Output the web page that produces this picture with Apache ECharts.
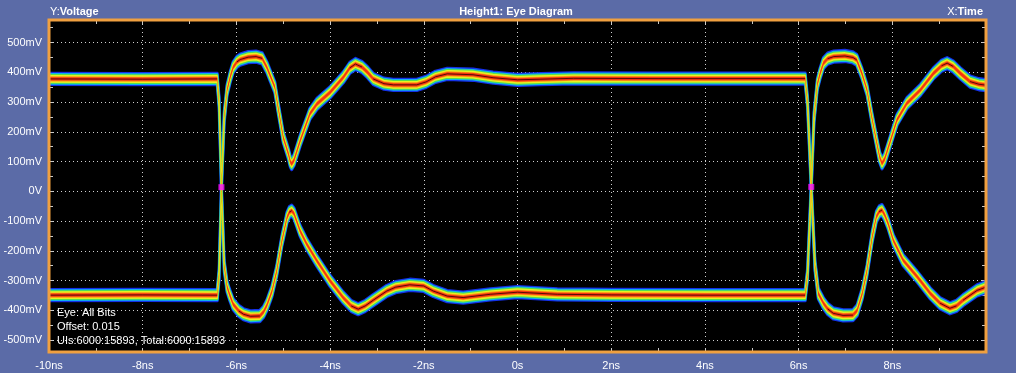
<!DOCTYPE html>
<html><head><meta charset="utf-8">
<script src="https://cdn.jsdelivr.net/npm/echarts@6/dist/echarts.min.js"></script>
<style>html,body{margin:0;padding:0;background:#5b6ba7;}#c{width:1016px;height:373px;}</style>
</head><body><div id="c"></div>
<script>
// ---- data (time in ns, voltage in mV) ----
const xTicks = [-10, -8, -6, -4, -2, 0, 2, 4, 6, 8];
const yTicks = [-500, -400, -300, -200, -100, 0, 100, 200, 300, 400, 500];
const xMinorTicks = [-10, -9, -8, -7, -6, -5, -4, -3, -2, -1, 0, 1, 2, 3, 4, 5, 6, 7, 8, 9, 10];
const yMinorTicks = [-500, -450, -400, -350, -300, -250, -200, -150, -100, -50, 0, 50, 100, 150, 200, 250, 300, 350, 400, 450, 500, 550];

// trace that starts high, falls at the first edge, rises at the second
const traceA = [
  [-10, 378], [-8, 377], [-6.41, 378],
  [-6.37, 300], [-6.32, 12], [-6.26, -250], [-6.20, -320], [-6.15, -345],
  [-6.07, -379], [-5.95, -402], [-5.85, -413], [-5.70, -420], [-5.50, -419], [-5.42, -405], [-5.35, -383],
  [-5.24, -335], [-5.14, -268], [-5.03, -167], [-4.92, -88], [-4.87, -70], [-4.82, -65], [-4.77, -75],
  [-4.64, -133], [-4.50, -177], [-4.28, -234], [-4.00, -301], [-3.72, -357], [-3.55, -385], [-3.40, -396], [-3.25, -385],
  [-3.08, -366], [-2.79, -335], [-2.60, -322], [-2.30, -314], [-2.00, -318], [-1.80, -335], [-1.50, -352], [-1.16, -357],
  [-0.58, -346], [0, -339], [0.85, -346], [2, -348], [4, -349], [6.14, -349],
  [6.19, -280], [6.27, 15], [6.33, 250], [6.40, 360], [6.46, 397], [6.53, 431], [6.62, 446], [6.75, 453], [6.99, 455], [7.16, 450], [7.24, 442],
  [7.35, 397], [7.46, 341], [7.56, 251], [7.67, 162], [7.73, 115], [7.78, 94], [7.84, 110], [7.92, 150], [8.10, 240], [8.31, 296], [8.60, 341],
  [8.88, 397], [9.05, 422], [9.17, 431], [9.30, 420], [9.45, 397], [9.66, 369], [9.85, 360], [10, 357]
];
// trace that starts low, rises at the first edge, falls at the second
const traceB = [
  [-10, -349], [-8, -348], [-6.41, -349],
  [-6.37, -280], [-6.32, 12], [-6.26, 250], [-6.20, 340], [-6.13, 386], [-6.07, 417], [-5.99, 435], [-5.92, 443], [-5.75, 451], [-5.58, 453], [-5.45, 447],
  [-5.35, 417], [-5.18, 350], [-5.11, 282], [-5.00, 181], [-4.89, 126], [-4.85, 100], [-4.82, 92], [-4.77, 105],
  [-4.64, 170], [-4.43, 261], [-4.28, 294], [-4.00, 333], [-3.72, 383], [-3.58, 415], [-3.46, 428], [-3.32, 418],
  [-3.20, 400], [-3.08, 378], [-2.85, 362], [-2.65, 358], [-2.15, 358], [-1.95, 368], [-1.75, 385], [-1.50, 395], [-0.95, 392], [-0.52, 382], [0, 375], [0.5, 377], [1.2, 380], [3, 379], [6.14, 379],
  [6.19, 300], [6.27, 15], [6.35, -250], [6.42, -343], [6.53, -376], [6.62, -395], [6.74, -410], [6.95, -417], [7.16, -416], [7.25, -400],
  [7.36, -343], [7.46, -266], [7.57, -154], [7.66, -85], [7.72, -68], [7.78, -63], [7.84, -80], [7.91, -108], [8.02, -164], [8.23, -231], [8.53, -287],
  [8.81, -343], [9.02, -376], [9.23, -393], [9.37, -385], [9.51, -366], [9.81, -333], [10, -322]
];
const crossings = [[-6.32, 14], [6.27, 15]];
const infoLines = ['Eye: All Bits', 'Offset: 0.015', 'UIs:6000:15893, Total:6000:15893'];

// ---- styles ----
const traces = [traceA, traceB];
const heatLayers = [
  { h: 19, lw: 3, color: '#1430e6' },
  { h: 15.5, lw: 2.5, color: '#10b4f0' },
  { h: 13, lw: 2, color: '#58e048' },
  { h: 11, lw: 1.2, color: '#e6f024' },
  { h: 8.5, lw: 0, color: '#ff9414' },
  { h: 5.5, lw: 0, color: '#f43410' },
  { center: true, color: 'rgba(50,0,0,0.8)' }
];
const FONT = '"Liberation Sans", Arial, sans-serif';
const GRID = { left: 49, right: 30, top: 20, bottom: 21 };

function renderItem(params, api) {
  const trace = traces[api.value(2)];
  const layer = heatLayers[api.value(3)];
  if (layer.center) {
    const children = [];
    let seg = [];
    for (let i = 0; i < trace.length; i++) {
      const p = api.coord(trace[i]);
      if (seg.length) {
        const q = seg[seg.length - 1];
        if (Math.abs(p[1] - q[1]) > Math.abs(p[0] - q[0]) * 0.8) {
          if (seg.length > 1) children.push({ type: 'polyline', shape: { points: seg }, style: { stroke: layer.color, lineWidth: 1, fill: null } });
          seg = [];
        }
      }
      seg.push(p);
    }
    if (seg.length > 1) children.push({ type: 'polyline', shape: { points: seg }, style: { stroke: layer.color, lineWidth: 1, fill: null } });
    return { type: 'group', children: children };
  }
  const up = trace.map(d => api.coord([d[0], d[1] + layer.h]));
  const dn = trace.map(d => api.coord([d[0], d[1] - layer.h])).reverse();
  return {
    type: 'polygon',
    shape: { points: up.concat(dn) },
    style: { fill: layer.color, stroke: layer.lw ? layer.color : null, lineWidth: layer.lw, lineJoin: 'round' }
  };
}

const bandItems = [];
heatLayers.forEach((l, li) => traces.forEach((t, ti) => bandItems.push([0, 0, ti, li])));

const tickAxisX = (pos) => ({
  type: 'value', min: -10, max: 10, position: pos, gridIndex: 0,
  axisLine: { show: false, onZero: false }, axisLabel: { show: false }, splitLine: { show: false },
  axisTick: { show: true, inside: true, length: 4, customValues: xMinorTicks, lineStyle: { color: '#c8c8c8', width: 1 } }
});
const tickAxisY = (pos) => ({
  type: 'value', min: -540, max: 576, position: pos, gridIndex: 0,
  axisLine: { show: false, onZero: false }, axisLabel: { show: false }, splitLine: { show: false },
  axisTick: { show: true, inside: true, length: 4, customValues: yMinorTicks, lineStyle: { color: '#c8c8c8', width: 1 } }
});

const chart = echarts.init(document.getElementById('c'), null, { renderer: 'canvas', width: 1016, height: 373 });
chart.setOption({
  animation: false,
  backgroundColor: '#5b6ba7',
  grid: Object.assign({ show: true, backgroundColor: '#000000', borderWidth: 0, containLabel: false, outerBoundsMode: 'none' }, GRID),
  xAxis: [
    {
      type: 'value', min: -10, max: 10, position: 'bottom',
      axisLine: { show: false, onZero: false },
      axisTick: { show: false, customValues: xTicks },
      axisLabel: { customValues: xTicks, color: '#ffffff', fontFamily: FONT, fontSize: 11, margin: 8,
        formatter: v => (v === 0 ? '0s' : v + 'ns') },
      splitLine: { show: true, lineStyle: { color: '#d0d0d0', type: [1, 3], width: 1 } }
    },
    tickAxisX('bottom'), tickAxisX('top')
  ],
  yAxis: [
    {
      type: 'value', min: -540, max: 576, position: 'left',
      axisLine: { show: false, onZero: false },
      axisTick: { show: false, customValues: yTicks },
      axisLabel: { customValues: yTicks, color: '#ffffff', fontFamily: FONT, fontSize: 11, margin: 7,
        formatter: v => (v === 0 ? '0V' : v + 'mV') },
      splitLine: { show: true, lineStyle: { color: '#d0d0d0', type: [1, 3], width: 1 } }
    },
    tickAxisY('left'), tickAxisY('right')
  ],
  series: [
    {
      type: 'custom', xAxisIndex: 0, yAxisIndex: 0, clip: true, silent: true,
      renderItem: renderItem, data: bandItems, encode: { x: 0, y: 1 }, z: 3
    },
    {
      type: 'scatter', xAxisIndex: 0, yAxisIndex: 0, data: crossings, symbol: 'rect', symbolSize: 6,
      itemStyle: { color: '#ff10ff' }, z: 6, silent: true
    }
  ],
  graphic: [
    { type: 'rect', z: 100, silent: true,
      shape: { x: GRID.left, y: GRID.top, width: 1016 - GRID.left - GRID.right, height: 373 - GRID.top - GRID.bottom },
      style: { fill: null, stroke: '#f0a040', lineWidth: 3 } },
    { type: 'text', z: 100, x: 50, y: 6,
      style: { text: '{n|Y:}{b|Voltage}', fill: '#ffffff',
        rich: { n: { fontFamily: FONT, fontSize: 11, fill: '#ffffff' }, b: { fontFamily: FONT, fontSize: 11, fontWeight: 'bold', fill: '#ffffff' } } } },
    { type: 'text', z: 100, x: 516, y: 6,
      style: { text: 'Height1: Eye Diagram', fill: '#ffffff', align: 'center', fontFamily: FONT, fontSize: 11, fontWeight: 'bold' } },
    { type: 'text', z: 100, x: 983, y: 6,
      style: { text: '{n|X:}{b|Time}', fill: '#ffffff', align: 'right',
        rich: { n: { fontFamily: FONT, fontSize: 11, fill: '#ffffff' }, b: { fontFamily: FONT, fontSize: 11, fontWeight: 'bold', fill: '#ffffff' } } } },
    { type: 'text', z: 100, x: 57, y: 307, style: { text: infoLines[0], fill: '#ffffff', fontFamily: FONT, fontSize: 11 } },
    { type: 'text', z: 100, x: 57, y: 321, style: { text: infoLines[1], fill: '#ffffff', fontFamily: FONT, fontSize: 11 } },
    { type: 'text', z: 100, x: 57, y: 335, style: { text: infoLines[2], fill: '#ffffff', fontFamily: FONT, fontSize: 11 } }
  ]
});
</script>
</body></html>
